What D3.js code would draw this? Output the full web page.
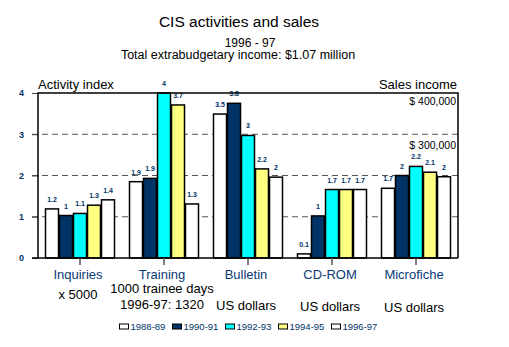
<!DOCTYPE html>
<html>
<head>
<meta charset="utf-8">
<script src="https://cdn.jsdelivr.net/npm/d3@7"></script>
<style>
  body { margin: 0; background: #fff; }
  svg { display: block; font-family: "Liberation Sans", Arial, sans-serif; }
</style>
</head>
<body>
<svg class="graph"></svg>
<script>
// activity index per category, one list per year
const categories = ["Inquiries", "Training", "Bulletin", "CD-ROM", "Microfiche"];
const years = ["1988-89", "1990-91", "1992-93", "1994-95", "1996-97"];
const v1988 = [1.19, 1.85, 3.49, 0.1, 1.69];
const v1990 = [1.03, 1.93, 3.75, 1.02, 2.0];
const v1992 = [1.08, 4.0, 2.97, 1.66, 2.22];
const v1994 = [1.28, 3.71, 2.16, 1.66, 2.08];
const v1996 = [1.41, 1.31, 1.96, 1.66, 1.97];
const yTicks = [0, 1, 2, 3, 4];
const unitLines = [["x 5000"], ["1000 trainee days", "1996-97: 1320"], ["US dollars"], ["US dollars"], ["US dollars"]];
const salesLabels = [["$ 400,000", 3.8], ["$ 300,000", 2.74]];

const colors = ["#ffffff", "#003366", "#00ffff", "#ffff80", "#ffffff"];
const series = [v1988, v1990, v1992, v1994, v1996];

function draw() {
  const width = 509;
  const height = 347;
  const margin = { top: 93, bottom: 89, left: 38, right: 51 };
  const blue = "#003366";

  const svg = d3.select(".graph")
      .attr("width", width)
      .attr("height", height);

  const x0 = d3.scaleBand()
      .domain(categories)
      .range([margin.left, width - margin.right]);
  const x1 = d3.scaleBand()
      .domain(years)
      .range([7, x0.bandwidth() - 7]);
  const y = d3.scaleLinear()
      .domain([0, 4])
      .range([height - margin.bottom, margin.top]);

  // titles
  svg.append("text")
      .attr("x", 239).attr("y", 26.5)
      .attr("text-anchor", "middle")
      .attr("font-size", 15.5)
      .text("CIS activities and sales");
  svg.append("text")
      .attr("x", 250).attr("y", 46.5)
      .attr("text-anchor", "middle")
      .attr("font-size", 12)
      .text("1996 - 97");
  svg.append("text")
      .attr("x", 238).attr("y", 59)
      .attr("text-anchor", "middle")
      .attr("font-size", 12.5)
      .text("Total extrabudgetary income: $1.07 million");

  svg.append("text")
      .attr("x", margin.left).attr("y", 89)
      .attr("font-size", 13)
      .text("Activity index");
  svg.append("text")
      .attr("x", width - margin.right - 1).attr("y", 89)
      .attr("text-anchor", "end")
      .attr("font-size", 13)
      .text("Sales income");

  // dashed grid
  svg.append("g")
    .selectAll("line")
    .data(yTicks.filter(d => d > 0 && d < 4))
    .enter()
    .append("line")
      .attr("x1", margin.left - 6)
      .attr("x2", width - margin.right)
      .attr("y1", d => y(d))
      .attr("y2", d => y(d))
      .attr("stroke", "#555")
      .attr("stroke-dasharray", "6,4");

  // y axis
  const yAxis = svg.append("g")
      .attr("transform", `translate(${margin.left},0)`)
      .call(d3.axisLeft(y).tickValues(yTicks).tickSize(6).tickPadding(8).tickFormat(d3.format("d")));
  yAxis.select(".domain").remove();
  yAxis.selectAll("line").attr("stroke", "#444");
  yAxis.selectAll("text")
      .attr("fill", blue)
      .attr("font-size", 9)
      .attr("font-weight", "bold")
      .attr("font-family", "Liberation Sans, Arial, sans-serif");

  // sales income markers
  svg.append("g")
    .selectAll("text")
    .data(salesLabels)
    .enter()
    .append("text")
      .attr("x", width - margin.right - 2)
      .attr("y", d => y(d[1]) + 4)
      .attr("text-anchor", "end")
      .attr("font-size", 10.5)
      .text(d => d[0]);

  // bars
  const fmt = d => String(+d.toFixed(1));
  const groups = svg.append("g")
    .selectAll("g")
    .data(categories)
    .enter()
    .append("g")
      .attr("transform", d => `translate(${x0(d)},0)`);

  groups.selectAll("rect")
    .data((c, i) => years.map((yr, j) => ({ yr, j, value: series[j][i] })))
    .enter()
    .append("rect")
      .attr("x", d => x1(d.yr) + 0.5)
      .attr("y", d => y(d.value))
      .attr("width", x1.bandwidth() - 1)
      .attr("height", d => y(0) - y(d.value))
      .attr("fill", d => colors[d.j])
      .attr("stroke", "#000")
      .attr("stroke-width", 1.5);

  groups.selectAll("text")
    .data((c, i) => years.map((yr, j) => ({ yr, j, value: series[j][i] })))
    .enter()
    .append("text")
      .attr("x", d => x1(d.yr) + x1.bandwidth() / 2)
      .attr("y", d => y(d.value) - 7)
      .attr("text-anchor", "middle")
      .attr("font-size", 7)
      .attr("font-weight", "bold")
      .attr("fill", blue)
      .text(d => fmt(d.value));

  // frame
  const frame = svg.append("g").attr("stroke", "#000").attr("stroke-width", 1.5).attr("fill", "none");
  frame.append("path")
      .attr("d", `M${margin.left},${y(0)}V${margin.top}H${width - margin.right}V${y(0)}`);
  frame.append("line")
      .attr("x1", margin.left - 6).attr("x2", width - margin.right)
      .attr("y1", y(0)).attr("y2", y(0));

  // category ticks and labels
  svg.append("g")
    .selectAll("line")
    .data(categories)
    .enter()
    .append("line")
      .attr("x1", d => x0(d) + x0.bandwidth() / 2)
      .attr("x2", d => x0(d) + x0.bandwidth() / 2)
      .attr("y1", y(0))
      .attr("y2", y(0) + 7)
      .attr("stroke", "#555")
      .attr("stroke-width", 1.5);

  svg.append("g")
    .selectAll("text")
    .data(categories)
    .enter()
    .append("text")
      .attr("x", d => x0(d) + x0.bandwidth() / 2 - 2)
      .attr("y", 278.5)
      .attr("text-anchor", "middle")
      .attr("font-size", 13)
      .attr("fill", "#0a3a78")
      .text(d => d);

  svg.append("g")
    .selectAll("text")
    .data(categories)
    .enter()
    .append("text")
      .attr("x", (d, i) => x0(d) + x0.bandwidth() / 2 - 2)
      .attr("y", (d, i) => unitLines[i].length > 1 ? 293 : (i === 0 ? 299 : 310 + (i - 2)))
      .attr("text-anchor", "middle")
      .attr("font-size", 13)
      .each(function(d, i) {
        const t = d3.select(this);
        unitLines[i].forEach((line, k) => {
          t.append("tspan")
              .attr("x", x0(d) + x0.bandwidth() / 2 - 2)
              .attr("dy", k === 0 ? 0 : 16)
              .text(line);
        });
      });

  // legend
  const legend = svg.append("g")
    .selectAll("g")
    .data(years)
    .enter()
    .append("g")
      .attr("transform", (d, i) => `translate(${119.5 + i * 53},326.5)`);
  legend.append("rect")
      .attr("x", 0).attr("y", -2.5)
      .attr("width", 9).attr("height", 5)
      .attr("fill", (d, i) => colors[i])
      .attr("stroke", "#000")
      .attr("stroke-width", 1);
  legend.append("text")
      .attr("x", 11).attr("y", 3.5)
      .attr("font-size", 9.5)
      .attr("fill", blue)
      .text(d => d);
}

draw();
</script>
</body>
</html>
